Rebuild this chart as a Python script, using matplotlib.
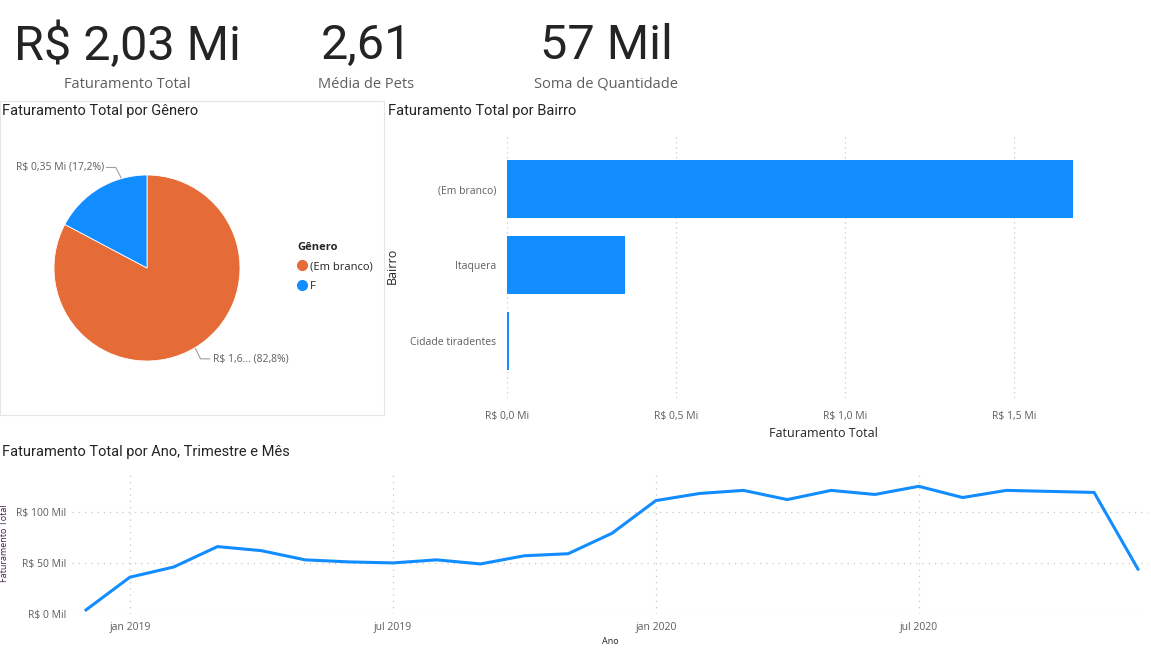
import numpy as np
import matplotlib.pyplot as plt
from matplotlib.patches import Rectangle
from matplotlib.lines import Line2D

# Data
kpi_values = ['R$ 2,03 Mi', '2,61', '57 Mil']
kpi_labels = ['Faturamento Total', 'Média de Pets', 'Soma de Quantidade']

genero = ['(Em branco)', 'F']
genero_fat = [1.68, 0.35]  # Mi
genero_txt = ['R$ 1,6... (82,8%)', 'R$ 0,35 Mi (17,2%)']

bairros = ['(Em branco)', 'Itaquera', 'Cidade tiradentes']
bairro_fat = [1.675, 0.349, 0.005]  # Mi
bairro_ticks = [0.0, 0.5, 1.0, 1.5]
bairro_ticklabels = ['R$ 0,0 Mi', 'R$ 0,5 Mi', 'R$ 1,0 Mi', 'R$ 1,5 Mi']

# monthly revenue, dez 2018 .. dez 2020 (Mil)
meses = ['dez 2018', 'jan 2019', 'fev 2019', 'mar 2019', 'abr 2019', 'mai 2019',
         'jun 2019', 'jul 2019', 'ago 2019', 'set 2019', 'out 2019', 'nov 2019',
         'dez 2019', 'jan 2020', 'fev 2020', 'mar 2020', 'abr 2020', 'mai 2020',
         'jun 2020', 'jul 2020', 'ago 2020', 'set 2020', 'out 2020', 'nov 2020',
         'dez 2020']
fat_mes = [4, 36, 46, 66, 62, 53, 51, 50, 53, 49, 57, 59,
           79, 111, 118, 121, 112, 121, 117, 125, 114, 121, 120, 119,
           44]
mes_ticks = ['jan 2019', 'jul 2019', 'jan 2020', 'jul 2020']
y_ticks = [0, 50, 100]
y_ticklabels = ['R$ 0 Mil', 'R$ 50 Mil', 'R$ 100 Mil']

# Styling
plt.rcParams['font.family'] = ['Open Sans', 'DejaVu Sans']
ORANGE = '#E66C37'
BLUE = '#118DFF'
DARK = '#252423'
GRAY = '#605E5C'
GRID = '#C8C6C4'

W, H = 1151, 651
fig = plt.figure(figsize=(W / 100, H / 100), dpi=100)


def fx(px):
    return px / W


def fy(py):
    return 1 - py / H


# KPI cards
for cx, val, lab in zip([127, 366, 606], kpi_values, kpi_labels):
    fig.text(fx(cx), fy(46), val, ha='center', va='center', fontsize=35,
             color=DARK, family=['Roboto', 'DejaVu Sans'])
    fig.text(fx(cx), fy(84), lab, ha='center', va='center', fontsize=10.5, color=GRAY)

# Titles
title_font = dict(fontsize=10.5, color=DARK, family=['Roboto', 'DejaVu Sans'])
fig.text(fx(2), fy(111), 'Faturamento Total por Gênero', ha='left', va='center', **title_font)
fig.text(fx(388), fy(111), 'Faturamento Total por Bairro', ha='left', va='center', **title_font)
fig.text(fx(2), fy(452), 'Faturamento Total por Ano, Trimestre e Mês', ha='left', va='center', **title_font)

# Pie panel border
fig.patches.append(Rectangle((0, fy(415)), fx(384), fy(101) - fy(415), transform=fig.transFigure,
                             fill=False, edgecolor='#E6E6E6', linewidth=0.8))

# Pie chart
r = 93
ax_pie = fig.add_axes([fx(147 - r), fy(268 + r), fx(2 * r), (2 * r) / H])
wedges, _ = ax_pie.pie(genero_fat, colors=[ORANGE, BLUE], startangle=90, counterclock=False,
                       radius=1, wedgeprops=dict(linewidth=0.6, edgecolor='white'))
ax_pie.set_xlim(-1, 1)
ax_pie.set_ylim(-1, 1)
ax_pie.set_aspect('equal')
ax_pie.axis('off')
# leader lines + data labels
for w, txt, shift in zip(wedges, genero_txt, [0, -15]):
    ang = np.deg2rad((w.theta1 + w.theta2) / 2 + shift)
    x0, y0 = np.cos(ang), np.sin(ang)
    side = np.sign(x0)
    ty = y0 + 0.12 * np.sign(y0)
    ex = x0 + 0.06 * side
    ax_pie.plot([x0 * 1.01, ex, ex + 0.1 * side], [y0 * 1.01, ty, ty], color='#A19F9D',
                lw=0.8, clip_on=False)
    ax_pie.text(ex + 0.13 * side, ty, txt, ha='left' if side > 0 else 'right', va='center',
                fontsize=7.5, color=GRAY, clip_on=False)

handles = [Line2D([], [], marker='o', ls='', markersize=7, color=c) for c in [ORANGE, BLUE]]
leg = fig.legend(handles, genero, title='Gênero', loc='upper left',
                 bbox_to_anchor=(fx(287), fy(232)), frameon=False, fontsize=8,
                 handletextpad=0.25, handlelength=0.9, labelspacing=0.75,
                 alignment='left', labelcolor=DARK)
leg.get_title().set_fontsize(8)
leg.get_title().set_fontweight('bold')
leg.get_title().set_color(DARK)

# Bar chart
ax_bar = fig.add_axes([fx(507), fy(398), fx(1140 - 507), (398 - 133) / H])
ypos = np.arange(len(bairros))
ax_bar.barh(ypos, bairro_fat, height=0.76, color=BLUE)
ax_bar.set_ylim(2.75, -0.74)
ax_bar.set_xlim(0, 1.873)
ax_bar.set_yticks(ypos)
ax_bar.set_yticklabels(bairros, fontsize=7.5, color=GRAY)
ax_bar.set_xticks(bairro_ticks)
ax_bar.set_xticklabels(bairro_ticklabels, fontsize=7.5, color=GRAY)
ax_bar.tick_params(length=0, pad=8)
ax_bar.tick_params(axis='x', pad=9)
ax_bar.grid(axis='x', ls=(0, (1, 3)), color=GRID, lw=0.9)
ax_bar.set_axisbelow(True)
for s in ax_bar.spines.values():
    s.set_visible(False)
ax_bar.set_xlabel('Faturamento Total', fontsize=9, color=DARK, labelpad=4)
ax_bar.set_ylabel('Bairro', fontsize=9, color=DARK, labelpad=8)

# Line chart
ax_line = fig.add_axes([fx(72), fy(614), fx(1148 - 72), (614 - 472) / H])
xi = np.arange(len(meses))
ax_line.plot(xi, fat_mes, color=BLUE, lw=2.2, clip_on=False)
ax_line.set_xlim(-0.32, 24.23)
ax_line.set_ylim(0, 139)
ax_line.set_xticks([meses.index(m) for m in mes_ticks])
ax_line.set_xticklabels(mes_ticks, fontsize=7.5, color=GRAY)
ax_line.set_yticks(y_ticks)
ax_line.set_yticklabels(y_ticklabels, fontsize=7.5, color=GRAY)
ax_line.tick_params(length=0)
ax_line.tick_params(axis='x', pad=6)
ax_line.tick_params(axis='y', pad=4)
ax_line.grid(True, ls=(0, (1, 4)), color=GRID, lw=0.9)
ax_line.set_axisbelow(True)
for s in ax_line.spines.values():
    s.set_visible(False)
ax_line.set_xlabel('Ano', fontsize=6.5, color=DARK, labelpad=3)
ax_line.set_ylabel('Faturamento Total', fontsize=6.5, color='#3E1F47', labelpad=5)

fig.savefig('out.png', dpi=100, facecolor='white')
